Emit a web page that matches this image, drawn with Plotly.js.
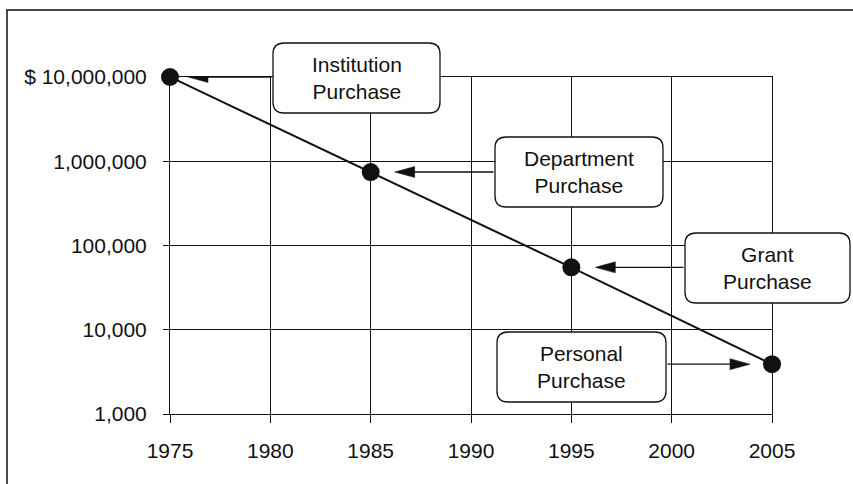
<!DOCTYPE html>
<html>
<head>
<meta charset="utf-8">
<script src="https://cdn.plot.ly/plotly-3.0.1.min.js"></script>
<style>
  html, body { margin: 0; padding: 0; background: #fff; }
  #chart { width: 853px; height: 484px; }
</style>
</head>
<body>
<div id="chart"></div>
<script>
// ---- data ----
const years = [1975, 1985, 1995, 2005];
const costs = [10000000, 745000, 55000, 3900];
const boxLabels = ['Institution<br>Purchase', 'Department<br>Purchase', 'Grant<br>Purchase', 'Personal<br>Purchase'];
const xTickVals = [1975, 1980, 1985, 1990, 1995, 2000, 2005];
const xTickText = ['1975', '1980', '1985', '1990', '1995', '2000', '2005'];
const yTickVals = [1000, 10000, 100000, 1000000, 10000000];
const yTickText = ['1,000', '10,000', '100,000', '1,000,000', '$ 10,000,000'];

// ---- layout geometry (pixels) ----
const W = 853, H = 484;
const M = { l: 170, r: 81, t: 77, b: 70 };
const PW = W - M.l - M.r, PH = H - M.t - M.b;
const px2paperX = p => (p - M.l) / PW;
const py2paperY = p => (H - M.b - p) / PH;
const px2year = p => xTickVals[0] + (p - M.l) / PW * (xTickVals[xTickVals.length - 1] - xTickVals[0]);

// callout boxes: [left, top, right, bottom], arrow tail side, standoff of arrow tip (px)
const boxes = [
  { x0: 273, y0: 43,  x1: 440, y1: 113, tail: 'left',  standoff: 18 },
  { x0: 495, y0: 137, x1: 663, y1: 207, tail: 'left',  standoff: 24 },
  { x0: 685, y0: 233, x1: 850, y1: 303, tail: 'left',  standoff: 24 },
  { x0: 497, y0: 332, x1: 666, y1: 402, tail: 'right', standoff: 22 }
];
const HEAD_LEN = 20, HEAD_W = 11;

function roundRectPath(b, r) {
  const X0 = px2paperX(b.x0), X1 = px2paperX(b.x1);
  const Y0 = py2paperY(b.y0), Y1 = py2paperY(b.y1);
  const rx = r / PW, ry = r / PH;
  return 'M' + (X0 + rx) + ',' + Y0 +
    ' L' + (X1 - rx) + ',' + Y0 +
    ' Q' + X1 + ',' + Y0 + ' ' + X1 + ',' + (Y0 - ry) +
    ' L' + X1 + ',' + (Y1 + ry) +
    ' Q' + X1 + ',' + Y1 + ' ' + (X1 - rx) + ',' + Y1 +
    ' L' + (X0 + rx) + ',' + Y1 +
    ' Q' + X0 + ',' + Y1 + ' ' + X0 + ',' + (Y1 + ry) +
    ' L' + X0 + ',' + (Y0 - ry) +
    ' Q' + X0 + ',' + Y0 + ' ' + (X0 + rx) + ',' + Y0 + ' Z';
}

const shapes = [];
// outer frame (left + top lines)
shapes.push({
  type: 'path', xref: 'paper', yref: 'paper', layer: 'above',
  path: 'M' + px2paperX(7) + ',' + py2paperY(490) + ' L' + px2paperX(7) + ',' + py2paperY(10) +
        ' L' + px2paperX(860) + ',' + py2paperY(10),
  line: { color: '#111', width: 1.5 }
});
boxes.forEach(b => {
  shapes.push({
    type: 'path', xref: 'paper', yref: 'paper', layer: 'above',
    path: roundRectPath(b, 11),
    fillcolor: '#ffffff', line: { color: '#111', width: 1.3 }
  });
});
// elongated arrowheads anchored to the data points (pixel-sized)
boxes.forEach((b, i) => {
  const dir = b.tail === 'left' ? 1 : -1;
  const tip = dir * b.standoff, base = dir * (b.standoff + HEAD_LEN);
  shapes.push({
    type: 'path', xref: 'x', yref: 'y', layer: 'above',
    xsizemode: 'pixel', ysizemode: 'pixel',
    xanchor: years[i], yanchor: costs[i],
    path: 'M' + tip + ',0 L' + base + ',' + (HEAD_W / 2) + ' L' + base + ',' + (-HEAD_W / 2) + ' Z',
    fillcolor: '#111', line: { color: '#111', width: 0.5 }
  });
});

const annotations = [];
boxes.forEach((b, i) => {
  annotations.push({
    xref: 'paper', yref: 'paper',
    x: px2paperX((b.x0 + b.x1) / 2), y: py2paperY((b.y0 + b.y1) / 2),
    xanchor: 'center', yanchor: 'middle',
    text: boxLabels[i], showarrow: false, align: 'center',
    font: { family: 'Liberation Sans, Arial, sans-serif', size: 21, color: '#111' }
  });
  annotations.push({
    xref: 'x', yref: 'y',
    x: years[i], y: Math.log10(costs[i]),
    axref: 'x', ax: px2year(b.tail === 'left' ? b.x0 : b.x1),
    ayref: 'pixel', ay: 0,
    text: '', showarrow: true,
    arrowhead: 0, arrowwidth: 1.3, arrowcolor: '#111',
    standoff: b.standoff + HEAD_LEN / 2
  });
});

const trace = {
  type: 'scatter', mode: 'lines+markers',
  x: years, y: costs,
  line: { color: '#111', width: 2 },
  marker: { color: '#111', size: 18 },
  cliponaxis: false, hoverinfo: 'skip'
};

const axisFont = { family: 'Liberation Sans, Arial, sans-serif', size: 21, color: '#111' };
const layout = {
  width: W, height: H,
  margin: M,
  paper_bgcolor: '#ffffff', plot_bgcolor: '#ffffff',
  showlegend: false,
  xaxis: {
    range: [xTickVals[0], xTickVals[xTickVals.length - 1]],
    tickmode: 'array', tickvals: xTickVals, ticktext: xTickText,
    showgrid: true, gridcolor: '#111', gridwidth: 1,
    zeroline: false, showline: true, mirror: true, linecolor: '#111', linewidth: 1,
    ticks: 'outside', ticklen: 8, tickwidth: 1, tickcolor: '#111',
    ticklabelstandoff: 10,
    tickfont: axisFont, fixedrange: true
  },
  yaxis: {
    type: 'log', range: [3, 7],
    tickmode: 'array', tickvals: yTickVals, ticktext: yTickText,
    showgrid: true, gridcolor: '#111', gridwidth: 1,
    zeroline: false, showline: true, mirror: true, linecolor: '#111', linewidth: 1,
    ticks: 'outside', ticklen: 6, tickwidth: 1, tickcolor: '#111',
    ticklabelstandoff: 12,
    tickfont: axisFont, fixedrange: true
  },
  shapes: shapes,
  annotations: annotations
};

Plotly.newPlot('chart', [trace], layout, { displayModeBar: false, staticPlot: true });
</script>
</body>
</html>
